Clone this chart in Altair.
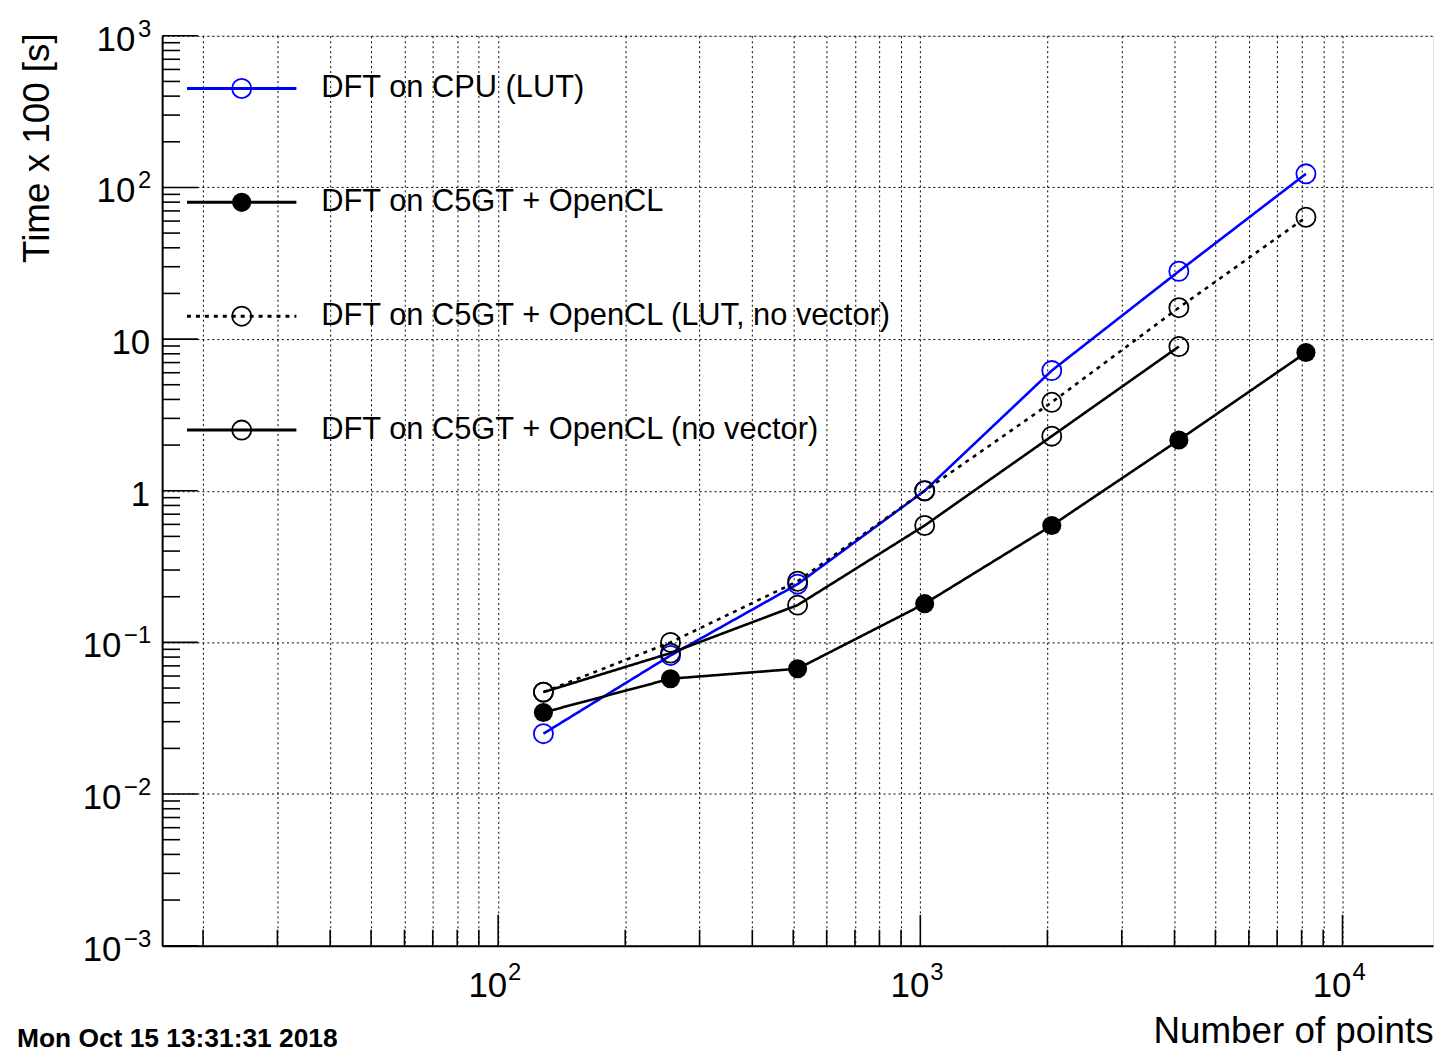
import altair as alt
import pandas as pd

# ---- data ----
n_points = [128, 256, 512, 1024, 2048, 4096, 8192]
cpu_lut = [0.025, 0.082, 0.242, 1.0, 6.2, 28.0, 123.0]
c5gt = [0.0345, 0.0576, 0.067, 0.18, 0.59, 2.16, 8.15]
c5gt_lut_novec = [0.047, 0.10, 0.253, 1.0, 3.83, 16.1, 63.6]
c5gt_novec = [0.047, 0.085, 0.176, 0.59, 2.29, 8.93]

series_names = [
    "DFT on CPU (LUT)",
    "DFT on C5GT + OpenCL",
    "DFT on C5GT + OpenCL (LUT, no vector)",
    "DFT on C5GT + OpenCL (no vector)",
]
series_values = [cpu_lut, c5gt, c5gt_lut_novec, c5gt_novec]
series_colors = ["#0000ff", "#000000", "#000000", "#000000"]
series_dash = [[1, 0], [1, 0], [4, 5], [1, 0]]
series_width = [2.6, 2.6, 3.0, 2.6]
series_filled = [False, True, False, False]

# tick labels (base + superscript, ROOT style)
x_label_values = [100, 1000, 10000]
x_label_base = ["10", "10", "10"]
x_label_sup = ["2", "3", "4"]
y_label_values = [0.001, 0.01, 0.1, 1, 10, 100, 1000]
y_label_base = ["10", "10", "10", "1", "10", "10", "10"]
y_label_sup = ["\u22123", "\u22122", "\u22121", "", "", "2", "3"]

date_text = "Mon Oct 15 13:31:31 2018"
x_title = "Number of points"
y_title = "Time x 100 [s]"

# ---- tables ----
rows = []
for name, vals, filled in zip(series_names, series_values, series_filled):
    for n, v in zip(n_points, vals):
        rows.append({"series": name, "n": n, "t": v, "filled": filled})
df = pd.DataFrame(rows)

x_major = [100, 1000, 10000]
x_minor = [m * 10 ** e for e in (1, 2, 3) for m in range(2, 10)]
y_major = [10.0 ** e for e in range(-3, 4)]
y_minor = [m * 10.0 ** e for e in range(-3, 3) for m in range(2, 10)]

W, H = 1278, 915
FONT = "Liberation Sans"
BASE_FS = 35
SUP_FS = 24

xscale = alt.Scale(type="log", domain=[16, 16384], nice=False, zero=False)
yscale = alt.Scale(type="log", domain=[0.001, 1000], nice=False, zero=False)

col_scale = alt.Scale(domain=series_names, range=series_colors)
dash_scale = alt.Scale(domain=series_names, range=series_dash)
width_scale = alt.Scale(domain=series_names, range=series_width)

common_axis = dict(
    grid=True,
    gridDash=[2, 3],
    gridColor="black",
    gridOpacity=1,
    gridWidth=1,
    ticks=False,
    labels=False,
    domain=True,
    domainColor="black",
    domainWidth=2,
    titleFont=FONT,
    titleFontSize=37,
    titleFontWeight="normal",
    titleColor="black",
    titleBaseline="middle",
    titleAlign="right",
)

x_enc = alt.X(
    "n:Q",
    scale=xscale,
    axis=alt.Axis(
        values=sorted(x_minor + x_major),
        title=x_title,
        titleX=W,
        titleY=86,
        **common_axis,
    ),
)
y_enc = alt.Y(
    "t:Q",
    scale=yscale,
    axis=alt.Axis(
        values=y_major,
        title=y_title,
        titleAngle=270,
        titleX=-125,
        titleY=-3,
        **common_axis,
    ),
)

base = alt.Chart(df)

lines = base.mark_line().encode(
    x=x_enc,
    y=y_enc,
    color=alt.Color("series:N", scale=col_scale, legend=None),
    strokeDash=alt.StrokeDash("series:N", scale=dash_scale, legend=None),
    strokeWidth=alt.StrokeWidth("series:N", scale=width_scale, legend=None),
    detail="series:N",
    order="n:Q",
)

open_pts = base.transform_filter("!datum.filled").mark_point(
    shape="circle", size=370, strokeWidth=1.8, filled=False, opacity=1
).encode(
    x=alt.X("n:Q", scale=xscale),
    y=alt.Y("t:Q", scale=yscale),
    color=alt.Color("series:N", scale=col_scale, legend=None),
)

filled_pts = base.transform_filter("datum.filled").mark_point(
    shape="circle", size=370, filled=True, opacity=1
).encode(
    x=alt.X("n:Q", scale=xscale),
    y=alt.Y("t:Q", scale=yscale),
    color=alt.Color("series:N", scale=col_scale, legend=None),
)


# ---- inward tick marks ----
def xticks(vals, length):
    return alt.Chart(pd.DataFrame({"v": vals})).mark_rule(color="black", strokeWidth=1.6).encode(
        x=alt.X("v:Q", scale=xscale), y=alt.value(H), y2=alt.value(H - length)
    )


def yticks(vals, length):
    return alt.Chart(pd.DataFrame({"v": vals})).mark_rule(color="black", strokeWidth=1.6).encode(
        y=alt.Y("v:Q", scale=yscale), x=alt.value(0), x2=alt.value(length)
    )


ticks = alt.layer(
    xticks([v for v in x_major if v < 16384], 31),
    xticks(x_minor, 16),
    yticks(y_major, 36),
    yticks(y_minor, 18),
)

# ---- tick labels with superscripts ----
xl = pd.DataFrame({"v": x_label_values, "b": x_label_base, "s": x_label_sup})
x_base_txt = alt.Chart(xl).mark_text(
    align="right", baseline="alphabetic", fontSize=BASE_FS, font=FONT, color="black", dx=9
).encode(x=alt.X("v:Q", scale=xscale), y=alt.value(H + 52), text="b:N")
x_sup_txt = alt.Chart(xl).mark_text(
    align="left", baseline="alphabetic", fontSize=SUP_FS, font=FONT, color="black", dx=10
).encode(x=alt.X("v:Q", scale=xscale), y=alt.value(H + 34), text="s:N")

yl = pd.DataFrame({"v": y_label_values, "b": y_label_base, "s": y_label_sup})
y_base_txt = (
    alt.Chart(yl)
    .transform_calculate(bx="length(datum.s) > 0 ? -13 - 14 * length(datum.s) : -12")
    .mark_text(align="right", baseline="alphabetic", fontSize=BASE_FS, font=FONT, color="black", dy=15)
    .encode(y=alt.Y("v:Q", scale=yscale), x=alt.X("bx:Q", scale=None), text="b:N")
)
y_sup_txt = alt.Chart(yl).mark_text(
    align="right", baseline="alphabetic", fontSize=SUP_FS, font=FONT, color="black", dy=1
).encode(y=alt.Y("v:Q", scale=yscale), x=alt.value(-11), text="s:N")

# ---- manual legend (ROOT style, no border) ----
leg = pd.DataFrame(
    {
        "series": series_names,
        "ly": [53 + i * 114.5 for i in range(len(series_names))],
        "filled": series_filled,
    }
)
leg_base = alt.Chart(leg)
leg_lines = leg_base.mark_rule(strokeWidth=3).encode(
    y=alt.Y("ly:Q", scale=None),
    x=alt.value(25),
    x2=alt.value(135),
    color=alt.Color("series:N", scale=col_scale, legend=None),
    strokeDash=alt.StrokeDash("series:N", scale=dash_scale, legend=None),
)
leg_open = leg_base.transform_filter("!datum.filled").mark_point(
    shape="circle", size=370, strokeWidth=1.8, filled=False, opacity=1
).encode(
    y=alt.Y("ly:Q", scale=None),
    x=alt.value(80),
    color=alt.Color("series:N", scale=col_scale, legend=None),
)
leg_filled = leg_base.transform_filter("datum.filled").mark_point(
    shape="circle", size=370, filled=True, opacity=1
).encode(
    y=alt.Y("ly:Q", scale=None),
    x=alt.value(80),
    color=alt.Color("series:N", scale=col_scale, legend=None),
)
leg_text = leg_base.mark_text(
    align="left", baseline="middle", fontSize=31, font=FONT, color="black"
).encode(y=alt.Y("ly:Q", scale=None), x=alt.value(160), text="series:N")

date = alt.Chart(pd.DataFrame({"d": [date_text]})).mark_text(
    align="left", baseline="middle", fontSize=26.5, font=FONT, fontWeight="bold", color="black"
).encode(x=alt.value(-146), y=alt.value(1009), text="d:N")

chart = (
    alt.layer(
        lines, open_pts, filled_pts, ticks,
        x_base_txt, x_sup_txt, y_base_txt, y_sup_txt,
        leg_lines, leg_open, leg_filled, leg_text, date,
    )
    .properties(
        width=W,
        height=H,
        autosize=alt.AutoSizeParams(type="none"),
        padding={"left": 155, "top": 25, "right": 7, "bottom": 110},
        background="white",
    )
    .configure_view(stroke="black", strokeWidth=2)
    .configure(font=FONT)
)

chart.save("out.html", embed_options={"renderer": "svg", "actions": False})
